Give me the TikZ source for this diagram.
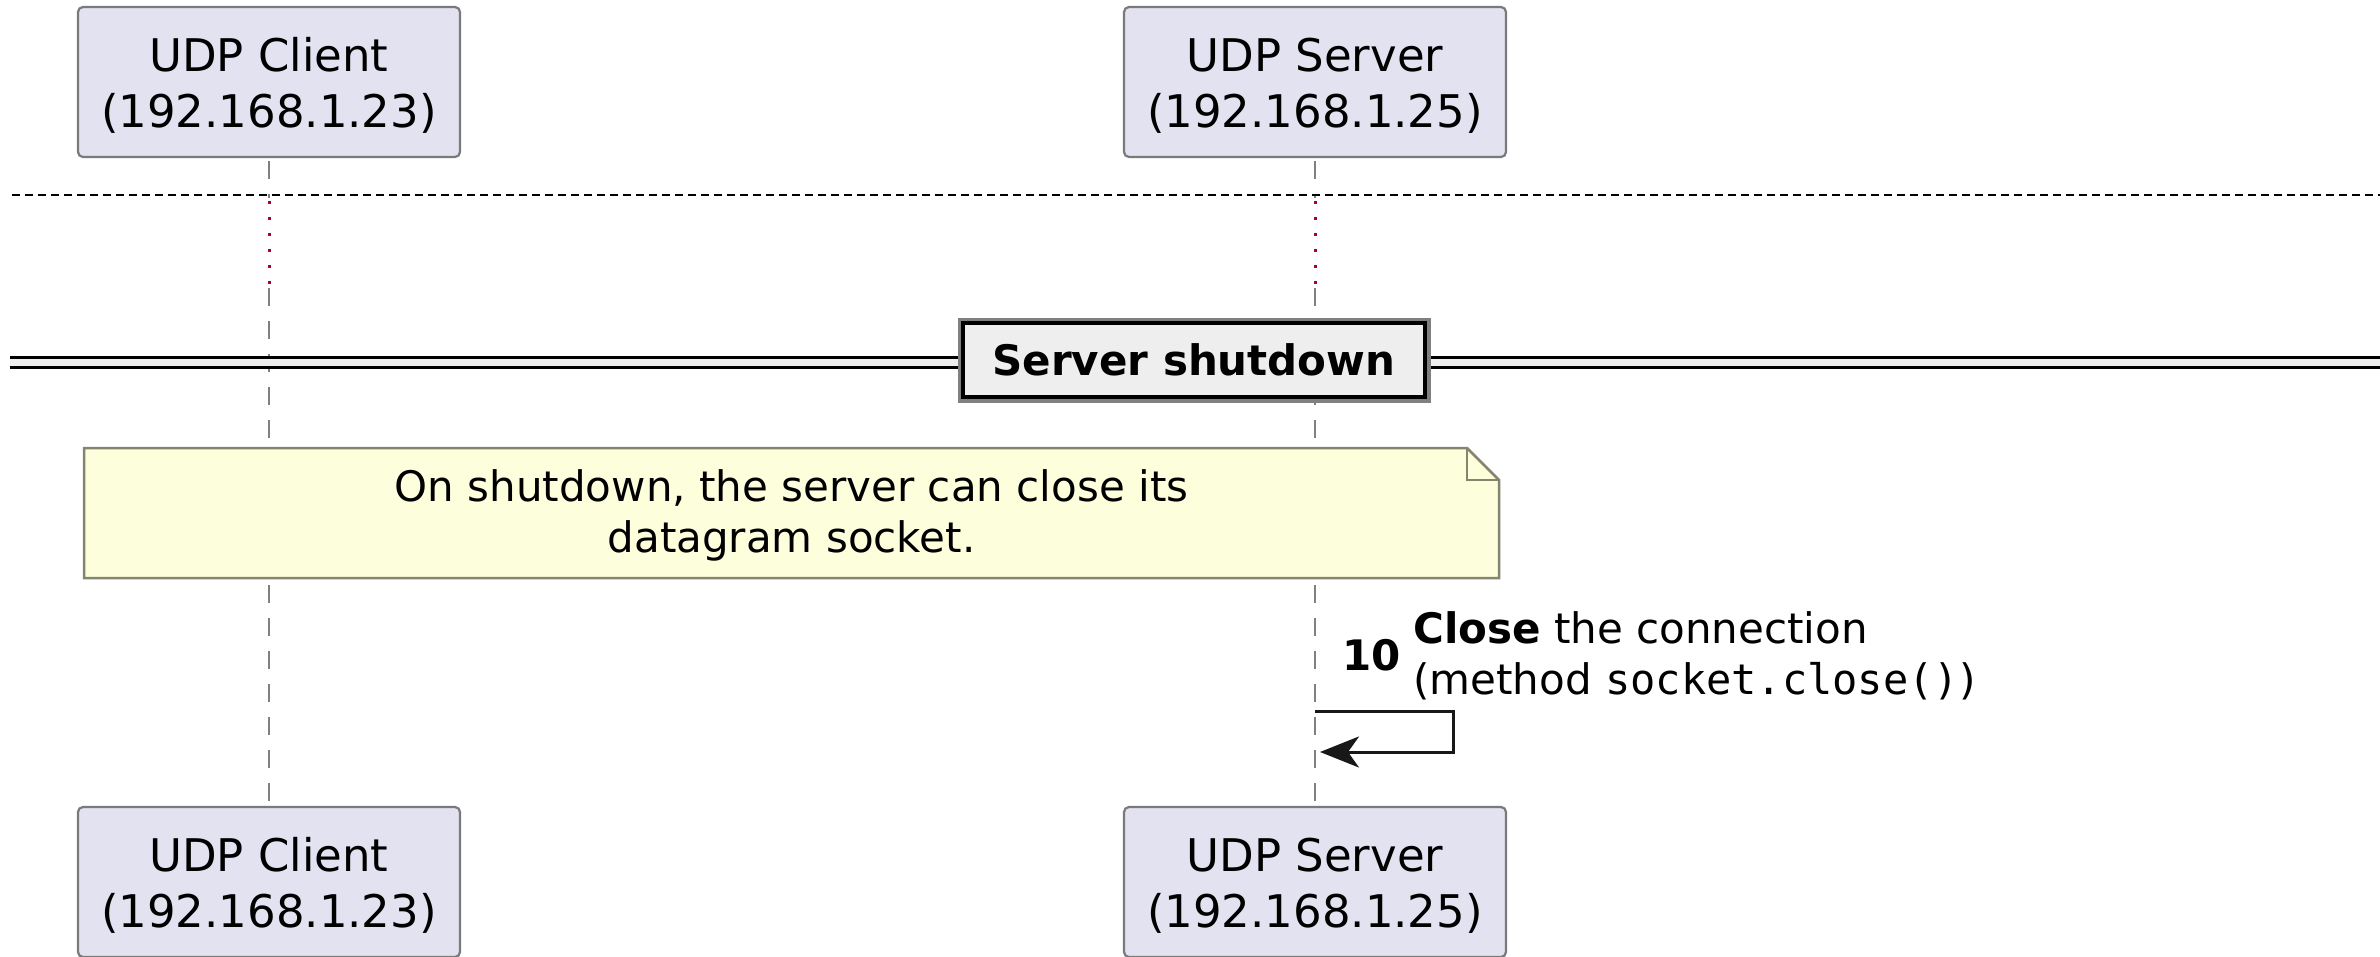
\documentclass[tikz,border=0pt]{standalone}
\usepackage{fontspec}
\setmainfont{DejaVu Sans}
\setmonofont{DejaVu Sans Mono}
\usetikzlibrary{arrows.meta,backgrounds}

\definecolor{partfill}{HTML}{E2E2F0}
\definecolor{partline}{HTML}{7A7A7A}
\definecolor{lifegray}{HTML}{808080}
\definecolor{delayred}{HTML}{A80036}
\definecolor{notefill}{HTML}{FCFEDC}
\definecolor{noteline}{HTML}{85856F}
\definecolor{divfill}{HTML}{EEEEEE}
\definecolor{divshadow}{HTML}{808080}
\definecolor{msgline}{HTML}{181818}

\begin{document}
\begin{tikzpicture}[x=1pt,y=-1pt,
  participant/.style={draw=partline, line width=2.2pt, fill=partfill,
    rounded corners=5pt, minimum width=382pt, minimum height=150pt,
    inner sep=0pt, align=center, font=\fontsize{45}{56}\selectfont,
    text height=90pt, text depth=0pt},
  lifeline/.style={draw=lifegray, line width=2pt, dash pattern=on 18pt off 15pt},
  delayline/.style={draw=delayred, line width=3pt, dash pattern=on 3pt off 13pt},
  separator/.style={draw=black, line width=2pt, dash pattern=on 8pt off 5pt},
  dividerline/.style={draw=black, line width=3pt},
  divider/.style={draw=black, line width=4pt, fill=divfill,
    preaction={draw=divshadow, line width=11pt},
    minimum width=462pt, minimum height=74pt, inner sep=0pt,
    font=\fontsize{42}{51}\selectfont\bfseries},
  notebox/.style={draw=noteline, line width=2.5pt, fill=notefill, line join=miter},
  notetext/.style={align=center, inner sep=0pt,
    font=\fontsize{42}{51}\selectfont, text height=83pt, text depth=0pt},
  msgtext/.style={align=left, inner sep=0pt,
    font=\fontsize{42}{51}\selectfont, text height=83pt, text depth=0pt},
  msgnum/.style={inner sep=0pt, font=\fontsize{42}{51}\selectfont\bfseries},
  selfmsg/.style={draw=msgline, line width=3pt, line join=miter,
    -{Stealth[length=39pt, width=31pt, inset=11pt]}}
]
\useasboundingbox (0,0) rectangle (2380,956);

% level marks along the lifelines
\coordinate (gapTop)  at (0,198);
\coordinate (dlyTop)  at (0,200.5);
\coordinate (dlyBot)  at (0,285);
\coordinate (resume)  at (0,288);

% participants, head and foot
\node[participant] (clientTop) at (269,82)   {UDP Client\\(192.168.1.23)};
\node[participant] (serverTop) at (1315,82)  {UDP Server\\(192.168.1.25)};
\node[participant] (clientBot) at (269,882)  {UDP Client\\(192.168.1.23)};
\node[participant] (serverBot) at (1315,882) {UDP Server\\(192.168.1.25)};

% lifelines, kept behind everything else
\begin{scope}[on background layer]
\draw[lifeline] ([yshift=-3pt]clientTop.south) -- (clientTop.south |- gapTop);
\draw[lifeline] ([yshift=-3pt]serverTop.south) -- (serverTop.south |- gapTop);
\draw[delayline] (clientTop.south |- dlyTop) -- (clientTop.south |- dlyBot);
\draw[delayline] (serverTop.south |- dlyTop) -- (serverTop.south |- dlyBot);
\draw[lifeline] (clientTop.south |- resume) -- (clientBot.north);
\draw[lifeline] (serverTop.south |- resume) -- (serverBot.north);
\end{scope}

% dotted separator
\coordinate (sepL) at (12,195);
\coordinate (sepR) at (2380,195);
\draw[separator] (sepL) -- (sepR);

% "Server shutdown" divider
\coordinate (divTL) at (10,357.5);
\coordinate (divTR) at (2380,357.5);
\coordinate (divBL) at (10,367.5);
\coordinate (divBR) at (2380,367.5);
\fill[divfill] (divTL) rectangle (divBR);
\draw[dividerline] (divTL) -- (divTR);
\draw[dividerline] (divBL) -- (divBR);
\node[divider] (shutdown) at (1194,360) {Server shutdown};

% note over both participants
\draw[notebox] (84,448) -- (1467,448) -- (1499,480) -- (1499,578) -- (84,578) -- cycle;
\draw[notebox, fill=none] (1467,448) -- (1467,480) -- (1499,480);
\node[notetext] (noteText) at (791.5,510.5)
  {On shutdown, the server can close its\\datagram socket.};

% message 10: self call on the server
\node[msgnum, anchor=base west] (num10) at (1342,670) {10};
\node[msgtext, anchor=north west] (lbl10) at (1413,611)
  {\textbf{Close} the connection\\(method \texttt{socket.close()})};
\coordinate (selfStart) at (serverTop.south |- 0,711);
\coordinate (selfR1) at (1453,711);
\coordinate (selfR2) at (1453,752);
\coordinate (selfEnd) at (1320,752);
\draw[selfmsg] (selfStart) -- (selfR1) -- (selfR2) -- (selfEnd);
\end{tikzpicture}
\end{document}
